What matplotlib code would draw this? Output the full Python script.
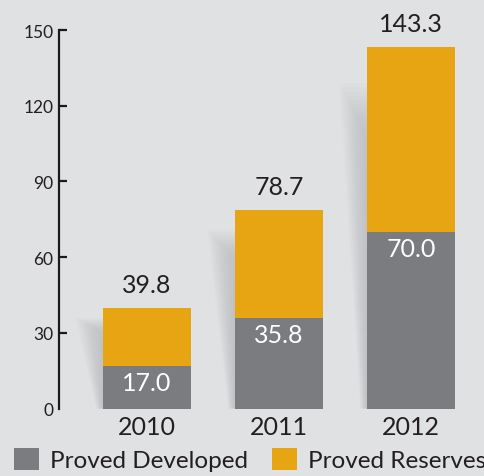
import matplotlib
matplotlib.use("Agg")
import matplotlib.pyplot as plt
from matplotlib.patches import Patch
import numpy as np

years = ["2010", "2011", "2012"]
proved_developed = [17.0, 35.8, 70.0]
proved_total = [39.8, 78.7, 143.3]
series_names = ["Proved Developed", "Proved Reserves"]
y_ticks = [0, 30, 60, 90, 120, 150]

BG = "#e0e1e3"
GRAY = "#7b7c80"
ORANGE = "#e8a513"
TXT = "#231f20"

plt.rcParams['font.family'] = ['Lato', 'DejaVu Sans']

fig = plt.figure(figsize=(4.85, 4.77), dpi=100, facecolor=BG)
ax = fig.add_axes([59/485, (477-409.5)/477, 1 - 59/485, (409.5-31)/477])
ax.set_facecolor(BG)

x = np.arange(len(years))
width = 0.667
reserves_extra = [t - d for t, d in zip(proved_total, proved_developed)]

# soft decorative shadows to the left of each bar
for xi, tot in zip(x, proved_total):
    left = xi - width/2
    n = 12
    for k in range(n):
        f = 1 - k/n
        w_top = 0.21 * f
        w_bot = 0.05 * f
        top = tot * (0.90 - 0.012 * k)
        ax.fill([left - w_bot, left - w_top, left, left],
                [0, top, top, 0], color="#9a9ba0", alpha=0.04, lw=0, zorder=1)

ax.bar(x, proved_developed, width, color=GRAY, zorder=3, label=series_names[0])
ax.bar(x, reserves_extra, width, bottom=proved_developed, color=ORANGE, zorder=3,
       label=series_names[1])

for xi, d, t in zip(x, proved_developed, proved_total):
    ax.annotate(f"{d:.1f}", (xi, d), xytext=(0, -12), textcoords="offset points",
                ha="center", va="center", color="white", fontsize=18, zorder=4)
    ax.annotate(f"{t:.1f}", (xi, t), xytext=(0, 17), textcoords="offset points",
                ha="center", va="center", color=TXT, fontsize=18, annotation_clip=False)

ax.set_xlim(-0.6667, 2.5606)
ax.set_ylim(0, 150)
for s in ["top", "right", "bottom"]:
    ax.spines[s].set_visible(False)
ax.spines["left"].set_linewidth(1.6)
ax.spines["left"].set_color("#1a1a1a")

ax.set_yticks(y_ticks)
ax.set_yticklabels([str(v) for v in y_ticks])
ax.tick_params(axis="y", direction="in", length=5.5, width=1.6, color="#1a1a1a",
               labelsize=12.5, labelcolor=TXT, pad=4)
ax.yaxis.get_major_ticks()[0].tick1line.set_visible(False)
ax.set_xticks(x)
ax.set_xticklabels(years)
ax.tick_params(axis="x", length=0, labelsize=18, labelcolor=TXT, pad=5)

handles = [Patch(facecolor=GRAY, edgecolor="none"), Patch(facecolor=ORANGE, edgecolor="none")]
fig.legend(handles, series_names, loc="lower left", bbox_to_anchor=(9/485, 0.0),
           ncol=2, frameon=False, fontsize=17.5, handlelength=1.02, handleheight=0.98,
           handletextpad=0.45, columnspacing=1.0, borderpad=0.2, borderaxespad=0,
           labelcolor=TXT)

fig.savefig("out.png", dpi=100, facecolor=BG)
